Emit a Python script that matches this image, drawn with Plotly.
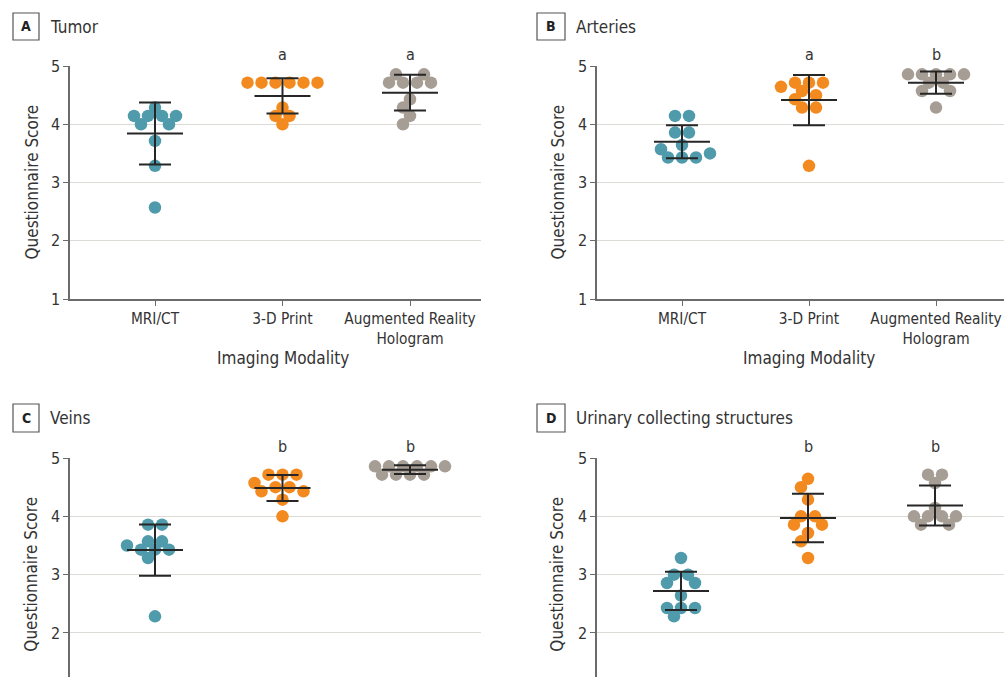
import numpy as np
import plotly.graph_objects as go

# ---------------- data ----------------
categories = ["MRI/CT", "3-D Print", "Augmented Reality<br>Hologram"]
panel_titles = ["Tumor", "Arteries", "Veins", "Urinary collecting structures"]
panel_letters = ["A", "B", "C", "D"]

tumor_mri = [4.143, 4.143, 4.143, 4.143, 4.286, 4.0, 4.0, 3.714, 3.286, 2.571]
tumor_print = [4.714, 4.714, 4.714, 4.714, 4.714, 4.714, 4.143, 4.143, 4.0, 4.286]
tumor_holo = [4.857, 4.857, 4.714, 4.714, 4.714, 4.714, 4.429, 4.286, 4.143, 4.0]

arteries_mri = [4.143, 4.143, 3.857, 3.857, 3.571, 3.643, 3.429, 3.429, 3.429, 3.5]
arteries_print = [4.714, 4.643, 4.714, 4.714, 4.571, 4.5, 4.286, 4.286, 4.429, 3.286]
arteries_holo = [4.857, 4.857, 4.857, 4.857, 4.857, 4.714, 4.714, 4.571, 4.571, 4.286]

veins_mri = [3.857, 3.857, 3.571, 3.571, 3.5, 3.429, 3.429, 3.429, 3.286, 2.286]
veins_print = [4.714, 4.714, 4.714, 4.571, 4.5, 4.5, 4.429, 4.429, 4.286, 4.0]
veins_holo = [4.857, 4.857, 4.857, 4.857, 4.857, 4.857, 4.714, 4.714, 4.714, 4.714]

urinary_mri = [3.286, 3.0, 3.0, 2.857, 2.857, 2.643, 2.429, 2.429, 2.429, 2.286]
urinary_print = [4.643, 4.5, 4.286, 4.0, 4.0, 3.857, 3.857, 3.714, 3.571, 3.286]
urinary_holo = [4.714, 4.714, 4.571, 4.143, 4.0, 4.0, 4.0, 4.0, 3.857, 3.857]

tumor_letters = ["", "a", "a"]
arteries_letters = ["", "a", "b"]
veins_letters = ["", "b", "b"]
urinary_letters = ["", "b", "b"]

y_ticks = [1, 2, 3, 4, 5]

panels_data = [
    [tumor_mri, tumor_print, tumor_holo],
    [arteries_mri, arteries_print, arteries_holo],
    [veins_mri, veins_print, veins_holo],
    [urinary_mri, urinary_print, urinary_holo],
]
panels_sig = [tumor_letters, arteries_letters, veins_letters, urinary_letters]

# ---------------- layout geometry (px) ----------------
W, H = 1004, 677
geom = [
    dict(left=70, first=155, step=127.5, right=481, top=66, unit=58.25, bottom_full=True,
         box=(13, 13, 39, 40), title_x=48, title_y=27, ytitle_x=31),
    dict(left=597, first=682, step=127.0, right=1004, top=66, unit=58.25, bottom_full=True,
         box=(537, 13, 565, 40), title_x=574, title_y=27, ytitle_x=557),
    dict(left=70, first=155, step=127.5, right=481, top=458, unit=58.33, bottom_full=False,
         box=(13, 404, 39, 432), title_x=48, title_y=418, ytitle_x=31),
    dict(left=597, first=681, step=127.0, right=1004, top=458, unit=58.33, bottom_full=False,
         box=(537, 404, 565, 432), title_x=574, title_y=418, ytitle_x=557),
]

colors = ["#4f9aab", "#f28a1f", "#a69d94"]
FONT = "Liberation Sans Narrow, DejaVu Sans Condensed, Roboto Condensed, Arial Narrow, sans-serif"
TEXT = "#333333"
DOT = 12.5
SPACING = 14.0


def fx(px):
    return px / W


def fy(py):
    return 1 - py / H


def swarm_offsets(values, px_per_y, d_px, min_dist):
    """Prism-like dot arrangement: equal values form symmetric rows; rows avoid overlaps."""
    vals = np.round(np.asarray(values, dtype=float), 3)
    uniq, counts = np.unique(vals, return_counts=True)
    order = sorted(range(len(uniq)), key=lambda i: (-counts[i], -uniq[i]))
    placed = []
    out = np.zeros(len(vals))
    for i in order:
        u, n = uniq[i], counts[i]
        idx = [j for j, v in enumerate(vals) if v == u]
        y = u * px_per_y
        cands = []
        for m in (1, 2, 3):
            base = (np.arange(n) - (n - 1) / 2.0) * d_px * m
            for k in range(-8, 9):
                s = k * d_px / 2.0
                c = base + s
                cost = np.max(np.abs(c)) + 0.5 * abs(s) + 2.0 * (m - 1)
                cands.append((cost, c))
        cands.sort(key=lambda t: t[0])
        xs = cands[0][1]
        for cost, c in cands:
            if all(np.hypot(x - px, y - py) >= min_dist for x in c for (px, py) in placed):
                xs = c
                break
        for j, x in zip(idx, xs):
            out[j] = x
        placed.extend((x, y) for x in xs)
    return out


fig = go.Figure()
layout = dict(
    width=W, height=H, margin=dict(l=0, r=0, t=0, b=0),
    paper_bgcolor="white", plot_bgcolor="white", showlegend=False,
    font=dict(family=FONT, color=TEXT, size=15),
    annotations=[], shapes=[],
)

for p, (groups, sig, g) in enumerate(zip(panels_data, panels_sig, geom)):
    n = p + 1
    xa = "x" if n == 1 else f"x{n}"
    ya = "y" if n == 1 else f"y{n}"
    xkey = "xaxis" if n == 1 else f"xaxis{n}"
    ykey = "yaxis" if n == 1 else f"yaxis{n}"

    x_lo = -(g["first"] - g["left"]) / g["step"]
    x_hi = (g["right"] - g["first"]) / g["step"]
    bottom_px = g["top"] + 4 * g["unit"] if g["bottom_full"] else H
    y_lo = 5 - (bottom_px - g["top"]) / g["unit"]

    layout[xkey] = dict(
        domain=[fx(g["left"]), fx(g["right"])], anchor=ya,
        range=[x_lo, x_hi], tickmode="array", tickvals=[0, 1, 2], ticktext=categories,
        showgrid=False, zeroline=False, showline=g["bottom_full"], linecolor="#6b6b6b", linewidth=1.5,
        ticks="outside" if g["bottom_full"] else "", ticklen=5, tickcolor="#6b6b6b",
        showticklabels=g["bottom_full"], tickfont=dict(size=15.3, color=TEXT, family=FONT),
        ticklabeloverflow="allow",
        automargin=False, fixedrange=True,
    )
    layout[ykey] = dict(
        domain=[fy(bottom_px), fy(g["top"])], anchor=xa,
        range=[y_lo, 5], tickmode="array", tickvals=y_ticks,
        showgrid=True, gridcolor="#dedbd7", gridwidth=1, zeroline=False,
        showline=True, linecolor="#6b6b6b", linewidth=1.5,
        ticks="outside", ticklen=5, tickcolor="#6b6b6b",
        tickfont=dict(size=16, color=TEXT, family=FONT),
        automargin=False, fixedrange=True,
    )

    for ci, vals in enumerate(groups):
        offs = swarm_offsets(vals, g["unit"], SPACING, 10.0) / g["step"]
        fig.add_trace(go.Scatter(
            x=ci + offs, y=vals, mode="markers", xaxis=xa, yaxis=ya,
            marker=dict(size=DOT, color=colors[ci], line=dict(width=0)),
            cliponaxis=False, hoverinfo="skip",
        ))
    for ci, vals in enumerate(groups):
        m = float(np.mean(vals))
        sd = float(np.std(vals, ddof=1))
        fig.add_trace(go.Scatter(
            x=[ci], y=[m], mode="markers", xaxis=xa, yaxis=ya,
            marker=dict(size=1, color="rgba(0,0,0,0)"),
            error_y=dict(type="data", array=[sd], width=16, thickness=2, color="#262626"),
            error_x=dict(type="data", array=[28 / g["step"]], width=0, thickness=2, color="#262626"),
            cliponaxis=False, hoverinfo="skip",
        ))
        if sig[ci]:
            layout["annotations"].append(dict(
                x=ci, y=5, xref=xa, yref=ya, text=sig[ci], showarrow=False,
                yanchor="bottom", yshift=0, font=dict(size=16, color=TEXT, family=FONT),
            ))

    # panel label box and title
    bx0, by0, bx1, by1 = g["box"]
    layout["shapes"].append(dict(
        type="rect", xref="paper", yref="paper",
        x0=fx(bx0), x1=fx(bx1), y0=fy(by1), y1=fy(by0),
        line=dict(color="#555555", width=1.2), fillcolor="white",
    ))
    layout["annotations"].append(dict(
        x=fx((bx0 + bx1) / 2), y=fy((by0 + by1) / 2), xref="paper", yref="paper",
        text="<b>" + panel_letters[p] + "</b>", showarrow=False,
        xanchor="center", yanchor="middle", font=dict(size=14, color="#222222", family=FONT),
    ))
    layout["annotations"].append(dict(
        x=fx(g["title_x"]), y=fy(g["title_y"]), xref="paper", yref="paper",
        text=panel_titles[p], showarrow=False, xanchor="left", yanchor="middle",
        font=dict(size=17, color=TEXT, family=FONT),
    ))
    # axis titles
    layout["annotations"].append(dict(
        x=fx(g["ytitle_x"]), y=fy(g["top"] + 2 * g["unit"]), xref="paper", yref="paper",
        text="Questionnaire Score", textangle=-90, showarrow=False,
        xanchor="center", yanchor="middle", font=dict(size=17, color=TEXT, family=FONT),
    ))
    if g["bottom_full"]:
        layout["annotations"].append(dict(
            x=1, y=fy(358), xref=xa, yref="paper",
            text="Imaging Modality", showarrow=False,
            xanchor="center", yanchor="middle", font=dict(size=17, color=TEXT, family=FONT),
        ))

fig.update_layout(**layout)
fig.write_html("out.html")
